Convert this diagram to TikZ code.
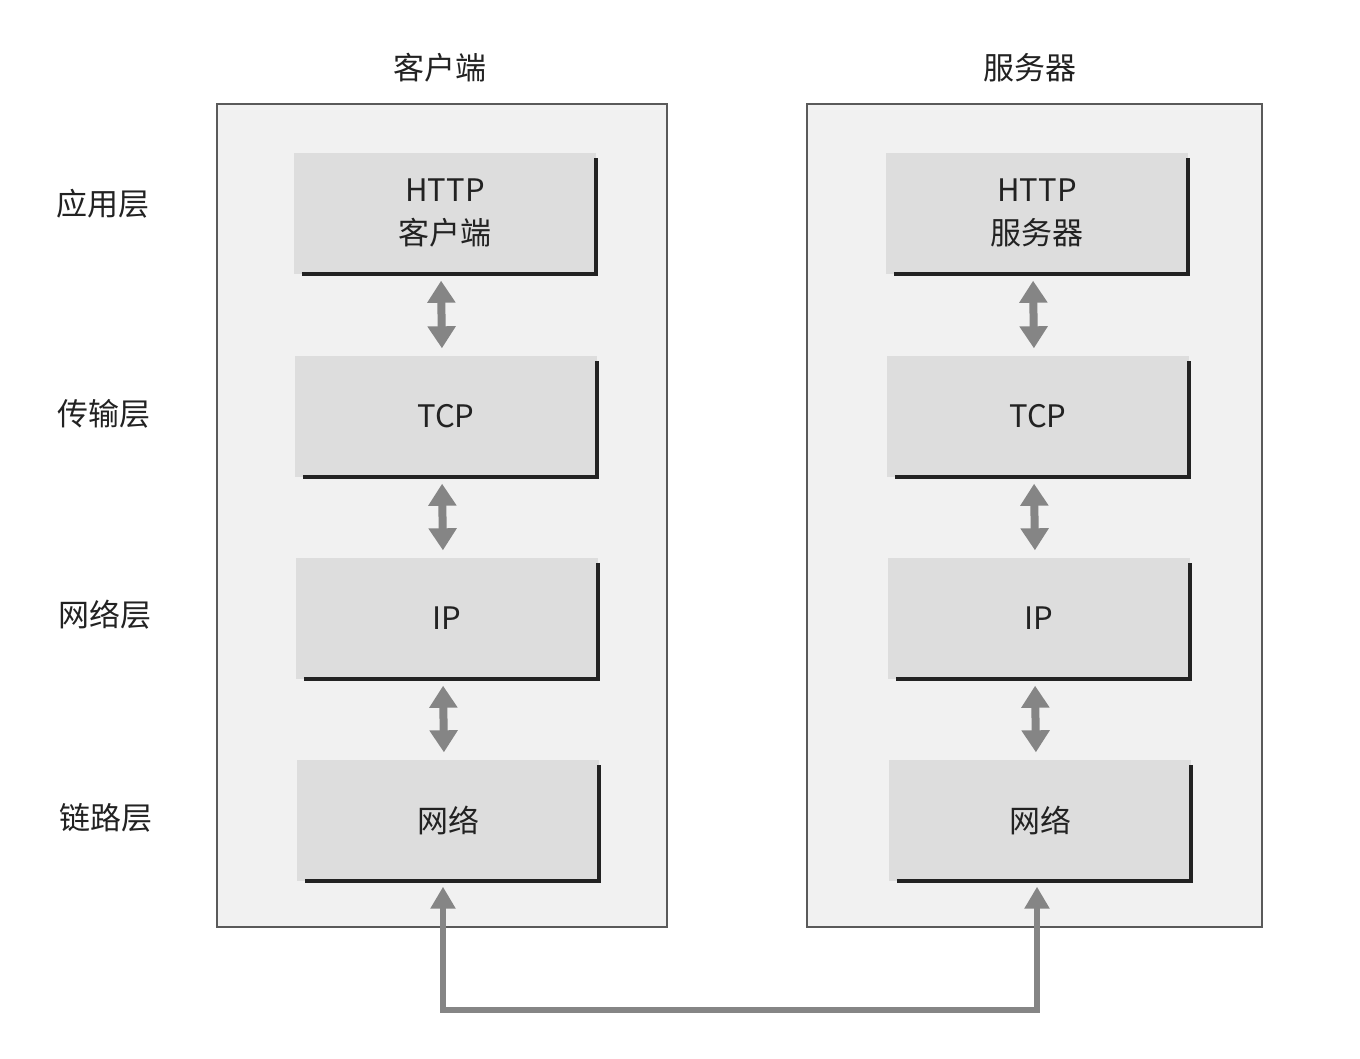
\documentclass[tikz,border=0pt]{standalone}
\usepackage{fontspec}
\setmainfont{Noto Sans CJK SC}
\usetikzlibrary{arrows.meta,calc}
\definecolor{panelfill}{HTML}{F1F1F1}
\definecolor{panelline}{HTML}{5A5A5A}
\definecolor{boxfill}{HTML}{DDDDDD}
\definecolor{shadowc}{HTML}{222222}
\definecolor{arrowc}{HTML}{858585}
\definecolor{textc}{HTML}{222222}
\tikzset{
  panel/.style={draw=panelline,fill=panelfill,line width=1.3pt},
  layerbox/.style={fill=boxfill,draw=none,minimum width=302pt,minimum height=121pt,inner sep=0pt,align=center,text=textc,font=\fontsize{31}{43}\selectfont},
  shadowline/.style={draw=shadowc,line width=4pt},
  dbl/.style={draw=arrowc,line width=8pt,{Triangle[width=27pt,length=22pt]}-{Triangle[width=27pt,length=22pt]},shorten <=7pt,shorten >=7pt},
  conn/.style={draw=arrowc,line width=6pt,{Triangle[width=24pt,length=22pt]}-{Triangle[width=24pt,length=22pt]},shorten <=6pt,shorten >=6pt},
  lbl/.style={text=textc,font=\fontsize{31}{36}\selectfont,inner sep=0pt}
}
\begin{document}
\begin{tikzpicture}[x=1pt,y=-1pt]
\useasboundingbox (0,0) rectangle (1360,1058);
% panels
\path[panel] (217,104) rectangle (667,927);
\path[panel] (807,104) rectangle (1262,927);
% titles
\node[lbl] (tc) at (440,68) {客户端};
\node[lbl] (ts) at (1030,68) {服务器};
% layer labels
\node[lbl] (l1) at (103,204) {应用层};
\node[lbl] (l2) at (104,414) {传输层};
\node[lbl] (l3) at (105,615) {网络层};
\node[lbl] (l4) at (106,818) {链路层};
% left boxes
\node[layerbox] (lhttp) at (445,213) {HTTP\\客户端};
\node[layerbox] (ltcp) at (446,416) {TCP};
\node[layerbox] (lip) at (447,618) {IP};
\node[layerbox] (lnet) at (448,820) {网络};
% right boxes
\node[layerbox] (rhttp) at (1037,213) {HTTP\\服务器};
\node[layerbox] (rtcp) at (1038,416) {TCP};
\node[layerbox] (rip) at (1039,618) {IP};
\node[layerbox] (rnet) at (1040,820) {网络};
% shadows
\foreach \b in {lhttp,ltcp,lip,lnet,rhttp,rtcp,rip,rnet}{
  \draw[shadowline] ($(\b.south west)+(8,0)$) -- (\b.south east) -- ($(\b.north east)+(0,6)$);
}
% arrows between layers
\draw[dbl] ($(lhttp.south)+(-4,0)$) -- ($(ltcp.north)+(-4,0)$);
\draw[dbl] ($(ltcp.south)+(-4,0)$) -- ($(lip.north)+(-4,0)$);
\draw[dbl] ($(lip.south)+(-4,0)$) -- ($(lnet.north)+(-4,0)$);
\draw[dbl] ($(rhttp.south)+(-4,0)$) -- ($(rtcp.north)+(-4,0)$);
\draw[dbl] ($(rtcp.south)+(-4,0)$) -- ($(rip.north)+(-4,0)$);
\draw[dbl] ($(rip.south)+(-4,0)$) -- ($(rnet.north)+(-4,0)$);
% bottom connection
\coordinate (lend) at ($(lnet.south)+(-5,0)$);
\coordinate (rend) at ($(rnet.south)+(-3,0)$);
\coordinate (bot) at (0,1010);
\draw[conn] (lend) -- (lend |- bot) -- (rend |- bot) -- (rend);
\end{tikzpicture}
\end{document}
